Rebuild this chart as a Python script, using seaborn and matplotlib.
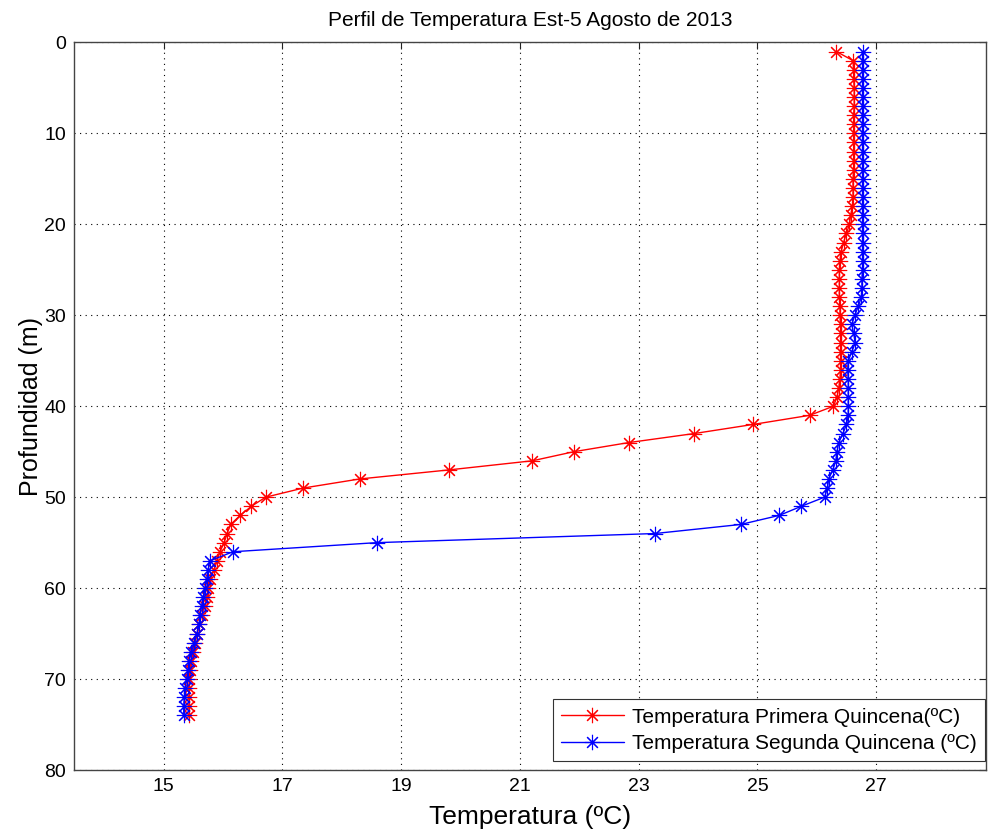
import numpy as np
import pandas as pd
import matplotlib
matplotlib.use("Agg")
import matplotlib.pyplot as plt
import seaborn as sns

# ---------------- data ----------------
depth_primera = list(range(1, 75))
temp_primera = [
    26.33, 26.61, 26.62, 26.62, 26.63, 26.63, 26.63, 26.62, 26.62, 26.62,
    26.62, 26.62, 26.62, 26.62, 26.61, 26.61, 26.61, 26.60, 26.57, 26.55,
    26.50, 26.45, 26.41, 26.39, 26.38, 26.38, 26.38, 26.38, 26.39, 26.39,
    26.40, 26.40, 26.40, 26.40, 26.40, 26.40, 26.39, 26.37, 26.34, 26.28,
    25.88, 24.93, 23.94, 22.83, 21.91, 21.21, 19.81, 18.30, 17.35, 16.72,
    16.48, 16.29, 16.13, 16.07, 16.02, 15.95, 15.90, 15.85, 15.79, 15.75,
    15.73, 15.69, 15.64, 15.60, 15.57, 15.53, 15.50, 15.47, 15.45, 15.43,
    15.43, 15.43, 15.43, 15.43,
]

depth_segunda = list(range(1, 75))
temp_segunda = [
    26.77, 26.77, 26.77, 26.77, 26.77, 26.77, 26.77, 26.77, 26.77, 26.77,
    26.77, 26.77, 26.77, 26.77, 26.77, 26.77, 26.77, 26.77, 26.77, 26.77,
    26.77, 26.77, 26.77, 26.77, 26.77, 26.76, 26.76, 26.75, 26.70, 26.64,
    26.59, 26.62, 26.65, 26.59, 26.53, 26.52, 26.53, 26.53, 26.53, 26.53,
    26.53, 26.50, 26.44, 26.37, 26.34, 26.32, 26.27, 26.20, 26.18, 26.13,
    25.74, 25.37, 24.72, 23.27, 18.59, 16.17, 15.78, 15.75, 15.73, 15.70,
    15.67, 15.64, 15.61, 15.60, 15.56, 15.52, 15.47, 15.43, 15.42, 15.39,
    15.36, 15.35, 15.34, 15.34,
]

label_primera = "Temperatura Primera Quincena(ºC)"
label_segunda = "Temperatura Segunda Quincena (ºC)"
title_text = "Perfil de Temperatura Est-5 Agosto de 2013"
xlabel_text = "Temperatura (ºC)"
ylabel_text = "Profundidad (m)"
xtick_values = [15, 17, 19, 21, 23, 25, 27]
ytick_values = [0, 10, 20, 30, 40, 50, 60, 70, 80]

# ---------------- style ----------------
sns.set_style("white")
plt.rcParams["font.family"] = ["Liberation Sans", "DejaVu Sans"]
plt.rcParams["text.color"] = "black"
plt.rcParams["axes.labelcolor"] = "black"
plt.rcParams["xtick.color"] = "black"
plt.rcParams["ytick.color"] = "black"

fig = plt.figure(figsize=(9.89, 8.32), dpi=100)
ax = fig.add_axes([0.0753, 0.0745, 0.9217, 0.8745])

df1 = pd.DataFrame({"T": temp_primera, "depth": depth_primera})
df2 = pd.DataFrame({"T": temp_segunda, "depth": depth_segunda})

asterisk = (8, 2, 0)
sns.lineplot(data=df1, x="T", y="depth", sort=False, estimator=None, ax=ax,
             color="#ff0000", lw=1.0, marker=asterisk, markersize=11,
             markeredgecolor="#ff0000", markeredgewidth=0.8,
             label=label_primera)
sns.lineplot(data=df2, x="T", y="depth", sort=False, estimator=None, ax=ax,
             color="#0000ff", lw=1.0, marker=asterisk, markersize=11,
             markeredgecolor="#0000ff", markeredgewidth=0.8,
             label=label_segunda)

ax.set_xlim(13.5, 28.85)
ax.set_ylim(80, 0)
ax.set_xticks(xtick_values)
ax.set_yticks(ytick_values)

ax.grid(True, linestyle=(0, (1, 4)), color="black", linewidth=0.8)
ax.tick_params(direction="in", length=5, width=0.8, top=True, right=True,
               labelsize=14, colors="#222222", labelcolor="black", pad=6)
for s in ax.spines.values():
    s.set_visible(True)
    s.set_color("#444444")
    s.set_linewidth(1.0)

ax.set_title(title_text, fontsize=15, pad=12, color="black")
ax.set_xlabel(xlabel_text, fontsize=19, labelpad=7, color="black")
ax.set_ylabel(ylabel_text, fontsize=18, labelpad=1, color="black")

leg = ax.legend(loc="lower right", bbox_to_anchor=(0.999, 0.012),
                fontsize=15, frameon=True, fancybox=False,
                edgecolor="#333333", framealpha=1, handlelength=3,
                handletextpad=0.4, borderaxespad=0, borderpad=0.4,
                labelspacing=0.35)
leg.get_frame().set_linewidth(0.8)
for t in leg.get_texts():
    t.set_color("black")

fig.savefig("out.png", dpi=100)
